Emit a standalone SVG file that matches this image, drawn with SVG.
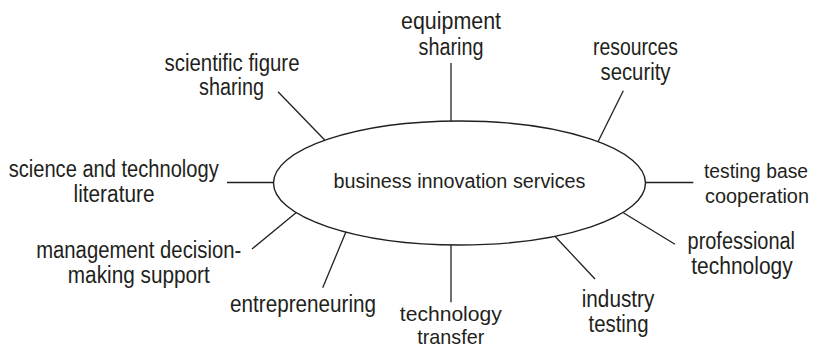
<svg xmlns="http://www.w3.org/2000/svg" width="814" height="349" viewBox="0 0 814 349">
<style>
  text { font-family: "Liberation Sans", Arial, sans-serif; font-size: 23px; fill: #231f20; text-anchor: middle; }
  .center { font-size: 20px; }
  .tight { font-size: 21px; }
  .small { font-size: 20px; }
  .link { stroke: #231f20; stroke-width: 1.3; fill: none; }
  .hub { stroke: #231f20; stroke-width: 1.4; fill: #ffffff; }
</style>
<rect width="814" height="349" fill="#ffffff"/>
<g id="connectors">
  <line class="link" x1="451" y1="63" x2="451" y2="121"/>
  <line class="link" x1="278" y1="91.7" x2="324.7" y2="140"/>
  <line class="link" x1="623.3" y1="90.7" x2="598" y2="141.7"/>
  <line class="link" x1="227" y1="182.5" x2="273.5" y2="182.5"/>
  <line class="link" x1="645.5" y1="182.5" x2="693.3" y2="182.5"/>
  <line class="link" x1="252" y1="249" x2="296" y2="212.7"/>
  <line class="link" x1="346" y1="231.7" x2="322.7" y2="287.7"/>
  <line class="link" x1="451" y1="245" x2="451" y2="302.3"/>
  <line class="link" x1="554.7" y1="236" x2="595" y2="279"/>
  <line class="link" x1="623.3" y1="212.7" x2="675" y2="244.3"/>
</g>
<g id="hub">
  <ellipse class="hub" cx="459.5" cy="183" rx="186" ry="62"/>
  <text class="center" x="459.5" y="188" textLength="252" lengthAdjust="spacingAndGlyphs">business innovation services</text>
</g>
<g id="equipment-sharing">
  <text x="451" y="29" textLength="100" lengthAdjust="spacingAndGlyphs">equipment</text>
  <text x="451" y="55" textLength="65" lengthAdjust="spacingAndGlyphs">sharing</text>
</g>
<g id="resources-security">
  <text x="635.5" y="55" textLength="85" lengthAdjust="spacingAndGlyphs">resources</text>
  <text x="635.5" y="80" textLength="70" lengthAdjust="spacingAndGlyphs">security</text>
</g>
<g id="scientific-figure-sharing">
  <text x="232" y="70.5" textLength="135" lengthAdjust="spacingAndGlyphs">scientific figure</text>
  <text x="231.5" y="95" textLength="65" lengthAdjust="spacingAndGlyphs">sharing</text>
</g>
<g id="science-technology-literature">
  <text x="113.7" y="176.5" textLength="210" lengthAdjust="spacingAndGlyphs">science and technology</text>
  <text x="114" y="201.7" textLength="81" lengthAdjust="spacingAndGlyphs">literature</text>
</g>
<g id="testing-base-cooperation">
  <text class="small" x="756" y="178" textLength="104" lengthAdjust="spacingAndGlyphs">testing base</text>
  <text class="small" x="757" y="203.3" textLength="104" lengthAdjust="spacingAndGlyphs">cooperation</text>
</g>
<g id="management-decision-making-support">
  <text x="138.7" y="258.3" textLength="205" lengthAdjust="spacingAndGlyphs">management decision-</text>
  <text x="138.8" y="283.3" textLength="142" lengthAdjust="spacingAndGlyphs">making support</text>
</g>
<g id="entrepreneuring">
  <text x="303" y="311.7" textLength="146" lengthAdjust="spacingAndGlyphs">entrepreneuring</text>
</g>
<g id="technology-transfer">
  <text class="tight" x="450.8" y="320.5" textLength="102" lengthAdjust="spacingAndGlyphs">technology</text>
  <text class="tight" x="450.8" y="344" textLength="67" lengthAdjust="spacingAndGlyphs">transfer</text>
</g>
<g id="industry-testing">
  <text x="618" y="306.7" textLength="72.5" lengthAdjust="spacingAndGlyphs">industry</text>
  <text x="618.5" y="331.7" textLength="60" lengthAdjust="spacingAndGlyphs">testing</text>
</g>
<g id="professional-technology">
  <text x="741.3" y="249" textLength="107.5" lengthAdjust="spacingAndGlyphs">professional</text>
  <text x="742" y="274.3" textLength="101.5" lengthAdjust="spacingAndGlyphs">technology</text>
</g>
</svg>
